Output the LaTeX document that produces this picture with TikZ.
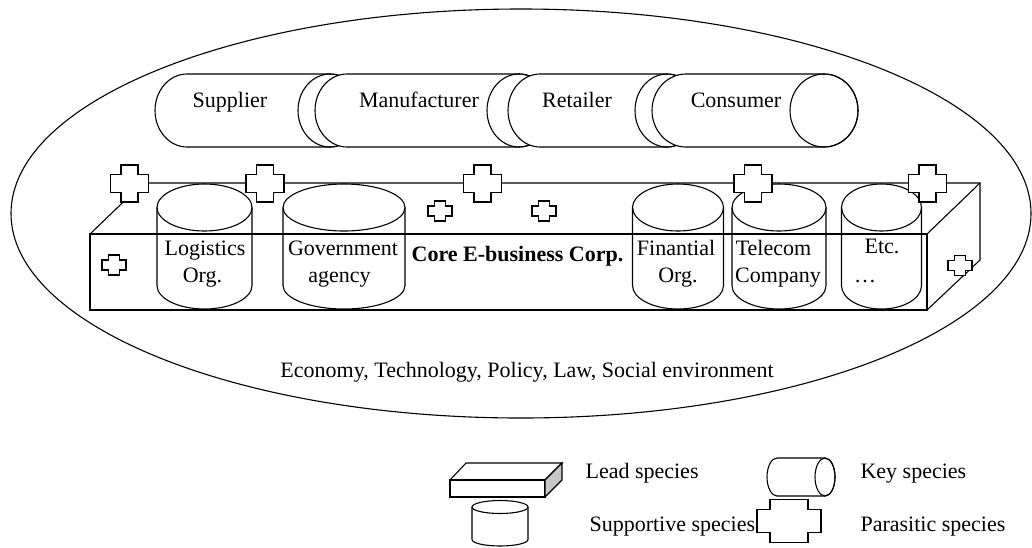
\documentclass[tikz,border=0pt]{standalone}
\usepackage{fontspec}
\setmainfont{Liberation Serif}
\begin{document}
\begin{tikzpicture}[x=1pt,y=-1pt,line width=1.1pt,line join=miter,
  lbl/.style={font=\fontsize{22}{26}\selectfont,inner sep=0pt,anchor=base},
  boldlbl/.style={lbl,font=\fontsize{22}{26}\selectfont\bfseries},
  % parasitic species: cross with notched corners; half width, half height, notch x, notch y
  pics/pcross/.style n args={4}{code={
    \draw[fill=white] (-#1+#3,-#2) -- (#1-#3,-#2) -- (#1-#3,-#2+#4) -- (#1,-#2+#4)
      -- (#1,#2-#4) -- (#1-#3,#2-#4) -- (#1-#3,#2) -- (-#1+#3,#2) -- (-#1+#3,#2-#4)
      -- (-#1,#2-#4) -- (-#1,-#2+#4) -- (-#1+#3,-#2+#4) -- cycle;}},
  % key species: lying cylinder; distance between cap centres, cap x radius, cap y radius
  pics/keycyl/.style n args={3}{code={
    \draw[fill=white] (0,-#3) -- (#1,-#3) arc[start angle=-90,end angle=90,x radius=#2,y radius=#3]
      -- (0,#3) arc[start angle=90,end angle=270,x radius=#2,y radius=#3] -- cycle;
    \draw (#1,0) ellipse[x radius=#2,y radius=#3];}},
  % supportive species: standing cylinder; x radius, y radius, height
  pics/suppcyl/.style n args={3}{code={
    \draw (-#1,0) -- (-#1,#3) arc[start angle=180,end angle=0,x radius=#1,y radius=#2] -- (#1,0);
    \draw (0,0) ellipse[x radius=#1,y radius=#2];}}
]
\useasboundingbox (0,0) rectangle (1032,547);

% business environment
\draw (521,213.5) ellipse[x radius=510,y radius=204.5];

% supply chain of key species
\pic at (187,110.5) {keycyl={143}{32}{36.5}};
\pic at (347,110.5) {keycyl={172}{32}{36.5}};
\pic at (540,110.5) {keycyl={127}{32}{36.5}};
\pic at (686,110.5) {keycyl={138}{34}{36.5}};
\node[lbl] (sup) at (230,107) {Supplier};
\node[lbl] (man) at (419,107) {Manufacturer};
\node[lbl] (ret) at (577,107) {Retailer};
\node[lbl] (con) at (736,107) {Consumer};

% lead species: the core e-business corporation
\draw (90,234) rectangle (927,310);
\draw (90,234) -- (143,183) -- (980,183) -- (980,260) -- (927,310);
\draw (927,234) -- (980,183);

% supportive species
\pic at (204.5,207.5) {suppcyl={47.5}{23.5}{78}};
\pic at (344,207.5) {suppcyl={61}{23.5}{78}};
\pic at (678,207.5) {suppcyl={45.5}{23.5}{78}};
\pic at (779,207.5) {suppcyl={47}{23.5}{78}};
\pic at (881.5,207.5) {suppcyl={40}{23.5}{78}};

\node[lbl] (log1) at (205,255) {Logistics};
\node[lbl] (log2) at (202.5,282) {Org.};
\node[lbl] (gov1) at (343,255) {Government};
\node[lbl] (gov2) at (339.5,282) {agency};
\node[boldlbl] (core) at (517.5,261) {Core E-business Corp.};
\node[lbl] (fin1) at (676,255) {Finantial};
\node[lbl] (fin2) at (678,282) {Org.};
\node[lbl] (tel1) at (773.5,255) {Telecom};
\node[lbl] (tel2) at (778,282) {Company};
\node[lbl] (etc1) at (882,253) {Etc.};
\node[lbl] (etc2) at (865,282) {\ldots};

% parasitic species
\pic at (129.5,183.5) {pcross={19}{18.5}{10.5}{9.5}};
\pic at (265,183.5) {pcross={19}{18.5}{10.5}{9.5}};
\pic at (482.5,183.5) {pcross={19}{18.5}{10.5}{9.5}};
\pic at (753,183.5) {pcross={19}{18.5}{10.5}{9.5}};
\pic at (927.5,183.5) {pcross={19}{18.5}{10.5}{9.5}};
\pic at (114,265) {pcross={12}{10}{6.5}{5}};
\pic at (440,211) {pcross={12}{10}{6.5}{5}};
\pic at (544,211) {pcross={12}{10}{6.5}{5}};
\pic at (960,265.5) {pcross={12}{10}{6.5}{5}};

\node[lbl] (env) at (527,377) {Economy, Technology, Policy, Law, Social environment};

% legend
\draw (450,480) rectangle (545,497);
\draw (450,480) -- (466,463) -- (562,463) -- (545,480);
\draw[fill=black!22] (545,480) -- (562,463) -- (562,480) -- (545,497) -- cycle;
\node[lbl,anchor=base west] (leadtxt) at (585,478) {Lead species};
\pic at (777,477) {keycyl={48}{10}{19}};
\node[lbl,anchor=base west] (keytxt) at (860,478) {Key species};
\pic at (500,507) {suppcyl={28}{6.5}{32.5}};
\node[lbl,anchor=base west] (supptxt) at (589,531) {Supportive species};
\pic at (789,521) {pcross={32}{21.5}{13}{10}};
\node[lbl,anchor=base west] (partxt) at (860,531) {Parasitic species};
\end{tikzpicture}
\end{document}
